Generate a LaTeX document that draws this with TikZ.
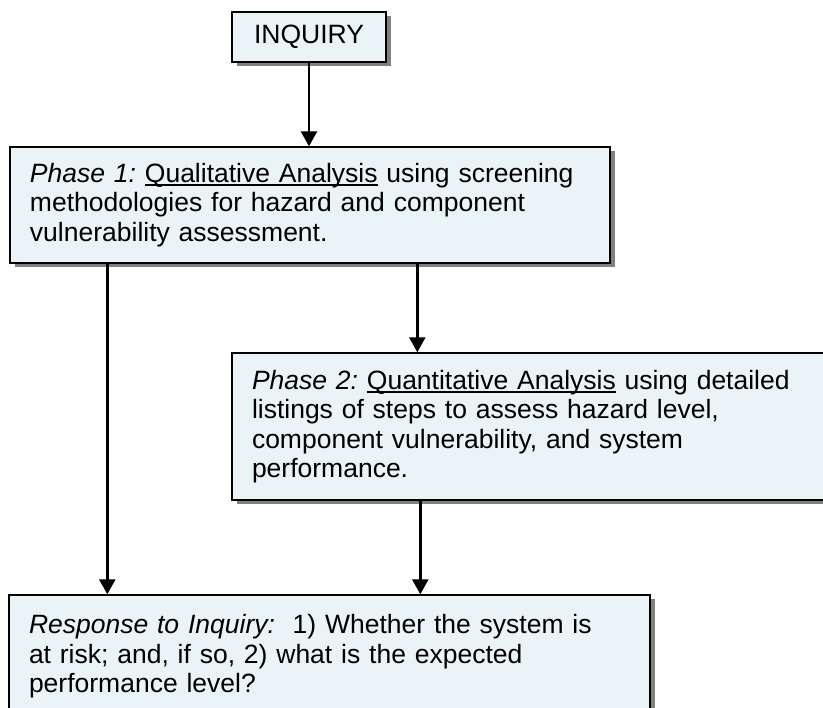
\documentclass[tikz,border=0pt]{standalone}
\usepackage{fontspec}
\setmainfont{Liberation Sans}
\usetikzlibrary{arrows.meta,shadows}
\definecolor{boxfill}{RGB}{234,244,246}
\definecolor{shadowgray}{RGB}{128,128,128}
\newcommand\myul[1]{\setbox0\hbox{#1}\rlap{\rule[-3.5pt]{\wd0}{1.4pt}}\box0\relax}
\tikzset{
  x=1pt, y=1pt,
  stagebox/.style={draw=black, line width=1.4pt, fill=boxfill, rectangle,
    inner xsep=20pt, inner ysep=0pt, align=left,
    font=\fontsize{26.5}{29.5}\selectfont\frenchspacing,
    drop shadow={shadow xshift=4.5pt, shadow yshift=-4.5pt, fill=shadowgray, opacity=1}},
  arr/.style={line width=2.6pt, -{Triangle[length=15pt,width=16pt]}}
}
\begin{document}
\begin{tikzpicture}
\clip (0,0) rectangle (823,-708);
\fill[white] (0,0) rectangle (823,-708);
\node[stagebox, inner xsep=0pt, align=center, minimum width=154pt, minimum height=50pt,
  font=\fontsize{26.5}{29}\selectfont] (inq) at (309,-37) {INQUIRY};
\node[stagebox, text width=560pt, minimum height=116pt] (p1) at (310,-205)
  {\textit{Phase 1:} \myul{Qualitative Analysis} using screening\\
   methodologies for hazard and component\\
   vulnerability assessment.};
\node[stagebox, text width=573pt, minimum height=147pt] (p2) at (538.5,-426.5)
  {\textit{Phase 2:} \myul{Quantitative Analysis} using detailed\\
   listings of steps to assess hazard level,\\
   component vulnerability, and system\\
   performance.};
\node[stagebox, text width=601pt, minimum height=123pt] (resp) at (329.5,-656.5)
  {\textit{Response to Inquiry:}\ \ 1) Whether the system is\\
   at risk; and, if so, 2) what is the expected\\
   performance level?};
\draw[arr] (inq.south) -- (inq.south |- p1.north);
\draw[arr] ([xshift=98pt]p1.south west) -- ([xshift=98pt]p1.south west |- resp.north);
\draw[arr] ([xshift=408pt]p1.south west) -- ([xshift=408pt]p1.south west |- p2.north);
\draw[arr] ([xshift=189pt]p2.south west) -- ([xshift=189pt]p2.south west |- resp.north);
\end{tikzpicture}
\end{document}
